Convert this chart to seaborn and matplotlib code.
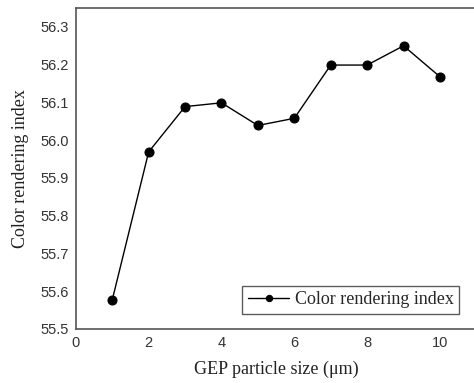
import matplotlib
matplotlib.use("Agg")
import matplotlib.pyplot as plt
import seaborn as sns
import pandas as pd

sizes = [1, 2, 3, 4, 5, 6, 7, 8, 9, 10]
cri = [55.577, 55.969, 56.089, 56.099, 56.039, 56.058, 56.199, 56.199, 56.250, 56.168]
xticks = [0, 2, 4, 6, 8, 10]
yticks = [55.5, 55.6, 55.7, 55.8, 55.9, 56.0, 56.1, 56.2, 56.3]

sns.set_theme(style="white")
df = pd.DataFrame({"size": sizes, "cri": cri})

fig = plt.figure(figsize=(4.74, 3.83), dpi=100)
ax = fig.add_axes([0.160, 0.141, 0.845, 0.838])
sns.lineplot(data=df, x="size", y="cri", ax=ax, color="black", linewidth=1.0,
             marker="o", markersize=6.5, markeredgecolor="black",
             label="Color rendering index")

ax.set_xlim(0, 11)
ax.set_ylim(55.5, 56.35)
ax.set_xticks(xticks)
ax.set_yticks(yticks)
ax.set_xticklabels([str(t) for t in xticks], fontfamily="Liberation Sans", fontsize=10.5, color="#333333")
ax.set_yticklabels([f"{t:.1f}" for t in yticks], fontfamily="Liberation Sans", fontsize=10.5, color="#333333")
ax.tick_params(axis="both", length=0, pad=5)

ax.set_xlabel("GEP particle size (\u03bcm)", fontfamily="Liberation Serif", fontsize=13, labelpad=8, color="#222222")
ax.set_ylabel("Color rendering index", fontfamily="Liberation Serif", fontsize=13, labelpad=8, color="#222222")

for s in ["left", "bottom", "top"]:
    ax.spines[s].set_color("#555555")
    ax.spines[s].set_linewidth(1.2)
ax.spines["right"].set_visible(False)

leg = ax.legend(loc="lower right", bbox_to_anchor=(0.957, 0.047), prop={"family": "Liberation Serif", "size": 13},
                frameon=True, fancybox=False, edgecolor="#333333", borderpad=0.3,
                handlelength=2.3, handletextpad=0.3, markerscale=0.7, borderaxespad=0.0)
leg.get_frame().set_linewidth(1.0)

fig.savefig("out.png", dpi=100)
